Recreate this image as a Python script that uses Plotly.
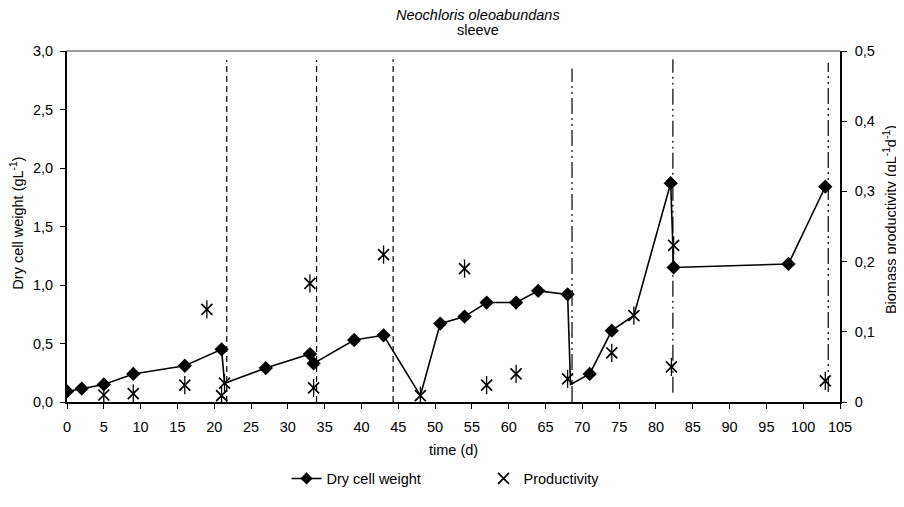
import plotly.graph_objects as go

# ---- data ----
dcw_days = [0, 2, 5, 9, 16, 21, 21.4, 27, 33, 33.5, 39, 43, 48, 50.7, 54, 57, 61, 64,
            68, 68.4, 71, 74, 77, 82, 82.4, 98, 103]
dcw_values = [0.09, 0.115, 0.15, 0.24, 0.31, 0.45, 0.16, 0.29, 0.41, 0.33, 0.53, 0.57,
              0.055, 0.67, 0.73, 0.85, 0.85, 0.95, 0.92, 0.15, 0.24, 0.61, 0.74, 1.87,
              1.15, 1.18, 1.84]
# DCW samples whose diamond is hidden under a productivity marker in the reference
dcw_hidden_days = [21.4, 48, 68.4, 77]

prod_days = [5, 9, 16, 19, 21, 21.4, 33, 33.5, 43, 48, 54, 57, 61, 68, 74, 77, 82.1, 82.4, 103]
prod_values = [0.010, 0.012, 0.024, 0.132, 0.009, 0.027, 0.169, 0.020, 0.210, 0.009,
               0.190, 0.024, 0.040, 0.033, 0.070, 0.123, 0.050, 0.223, 0.030]

# vertical event lines (day, top, bottom on left axis)
dashed_days = [21.7, 33.9, 44.3]
dashed_tops = [2.92, 2.92, 2.93]
dashdot_days = [68.6, 82.3, 103.4]
dashdot_tops = [2.85, 2.93, 2.90]
dashdot_bottoms = [0.0, 0.08, 0.085]

x_ticks = list(range(0, 106, 5))
y2_tickvals = [0, 0.1, 0.2, 0.3, 0.4, 0.5]
y2_ticktext = ["0", "0,1", "0,2", "0,3", "0,4", "0,5"]

FONT = "Liberation Sans, Arial, sans-serif"
FS = 14.5

dcw_sizes = [0 if d in dcw_hidden_days else 11 for d in dcw_days]

fig = go.Figure()
fig.add_trace(go.Scatter(
    x=dcw_days, y=dcw_values, mode="lines+markers", name="Dry cell weight",
    line=dict(color="black", width=1.6),
    marker=dict(symbol="diamond", size=dcw_sizes, color="black", opacity=1,
                line=dict(width=0)),
    yaxis="y",
))
fig.add_trace(go.Scatter(
    x=prod_days, y=prod_values, mode="markers", name="Productivity",
    legendgroup="prod",
    marker=dict(symbol="x-thin-open", size=11, color="black", opacity=1,
                line=dict(color="black", width=1.7)),
    yaxis="y2",
))
fig.add_trace(go.Scatter(
    x=prod_days, y=prod_values, mode="markers", name="Productivity",
    legendgroup="prod", showlegend=False,
    marker=dict(symbol="line-ns-open", size=13, color="black", opacity=1,
                line=dict(color="black", width=1.3)),
    yaxis="y2",
))

shapes = []
for d, t in zip(dashed_days, dashed_tops):
    shapes.append(dict(type="line", xref="x", yref="y", x0=d, x1=d, y0=0, y1=t,
                       line=dict(color="black", width=1.2, dash="6px,4px")))
for d, t, b in zip(dashdot_days, dashdot_tops, dashdot_bottoms):
    shapes.append(dict(type="line", xref="x", yref="y", x0=d, x1=d, y0=b, y1=t,
                       line=dict(color="black", width=1.2,
                                 dash="16px,4px,2px,4px,2px,4px")))
# top frame line
shapes.append(dict(type="line", xref="paper", yref="paper", x0=0, x1=1, y0=1, y1=1,
                   line=dict(color="#333333", width=1)))

txt = dict(family=FONT, size=FS, color="black")
annotations = [
    dict(text="<i>Neochloris oleoabundans</i>", xref="paper", yref="paper",
         x=0.5317, y=1.1025, xanchor="center", yanchor="middle", showarrow=False, font=txt),
    dict(text="sleeve", xref="paper", yref="paper",
         x=0.5317, y=1.0585, xanchor="center", yanchor="middle", showarrow=False, font=txt),
    dict(text="time (d)", xref="paper", yref="paper",
         x=0.5, y=-0.1366, xanchor="center", yanchor="middle", showarrow=False, font=txt),
    dict(text="Dry cell weight (gL<sup>-1</sup>)", xref="paper", yref="paper",
         x=-0.0651, y=0.51, xanchor="center", yanchor="middle", textangle=-90,
         showarrow=False, font=txt),
    dict(text="Biomass productivity (gL<sup>-1</sup>d<sup>-1</sup>)", xref="paper",
         yref="paper", x=1.0655, y=0.52, xanchor="center", yanchor="middle",
         textangle=-90, showarrow=False, font=txt),
]

# The page body has an 8px default margin, so the figure is sized 8px smaller
# and its margins reduced so that the plot area lands where the reference has it.
fig.update_layout(
    width=896, height=499,
    margin=dict(l=59, r=64, t=43, b=90),
    paper_bgcolor="white", plot_bgcolor="white",
    separators=",.",
    font=txt,
    xaxis=dict(range=[0, 105], tickvals=x_ticks, ticks="outside", ticklen=5,
               tickcolor="black", showline=True, linecolor="black", linewidth=2,
               showgrid=False, zeroline=False, automargin=False,
               ticklabelstandoff=6),
    yaxis=dict(range=[0, 3], dtick=0.5, tick0=0, tickformat=".1f", ticks="outside",
               ticklen=5, tickcolor="black", showline=True, linecolor="black",
               linewidth=2, showgrid=False, zeroline=False, automargin=False,
               ticklabelstandoff=4),
    yaxis2=dict(range=[0, 0.5], overlaying="y", side="right", tickvals=y2_tickvals,
                ticktext=y2_ticktext, ticks="outside", ticklen=5, tickcolor="black",
                showline=True, linecolor="black", linewidth=1.5, showgrid=False,
                zeroline=False, automargin=False, ticklabelstandoff=5),
    yaxis3=dict(range=[0, 0.5], overlaying="y", side="right", tickvals=y2_tickvals,
                ticks="inside", ticklen=5, tickcolor="black", showticklabels=False,
                showline=False, showgrid=False, zeroline=False, automargin=False),
    legend=dict(orientation="h", x=0.284, xanchor="left", y=-0.218, yanchor="middle",
                font=txt, bgcolor="rgba(0,0,0,0)", entrywidth=152,
                entrywidthmode="pixels"),
    annotations=annotations,
    shapes=shapes,
    showlegend=True,
)

fig.write_html("out.html")
